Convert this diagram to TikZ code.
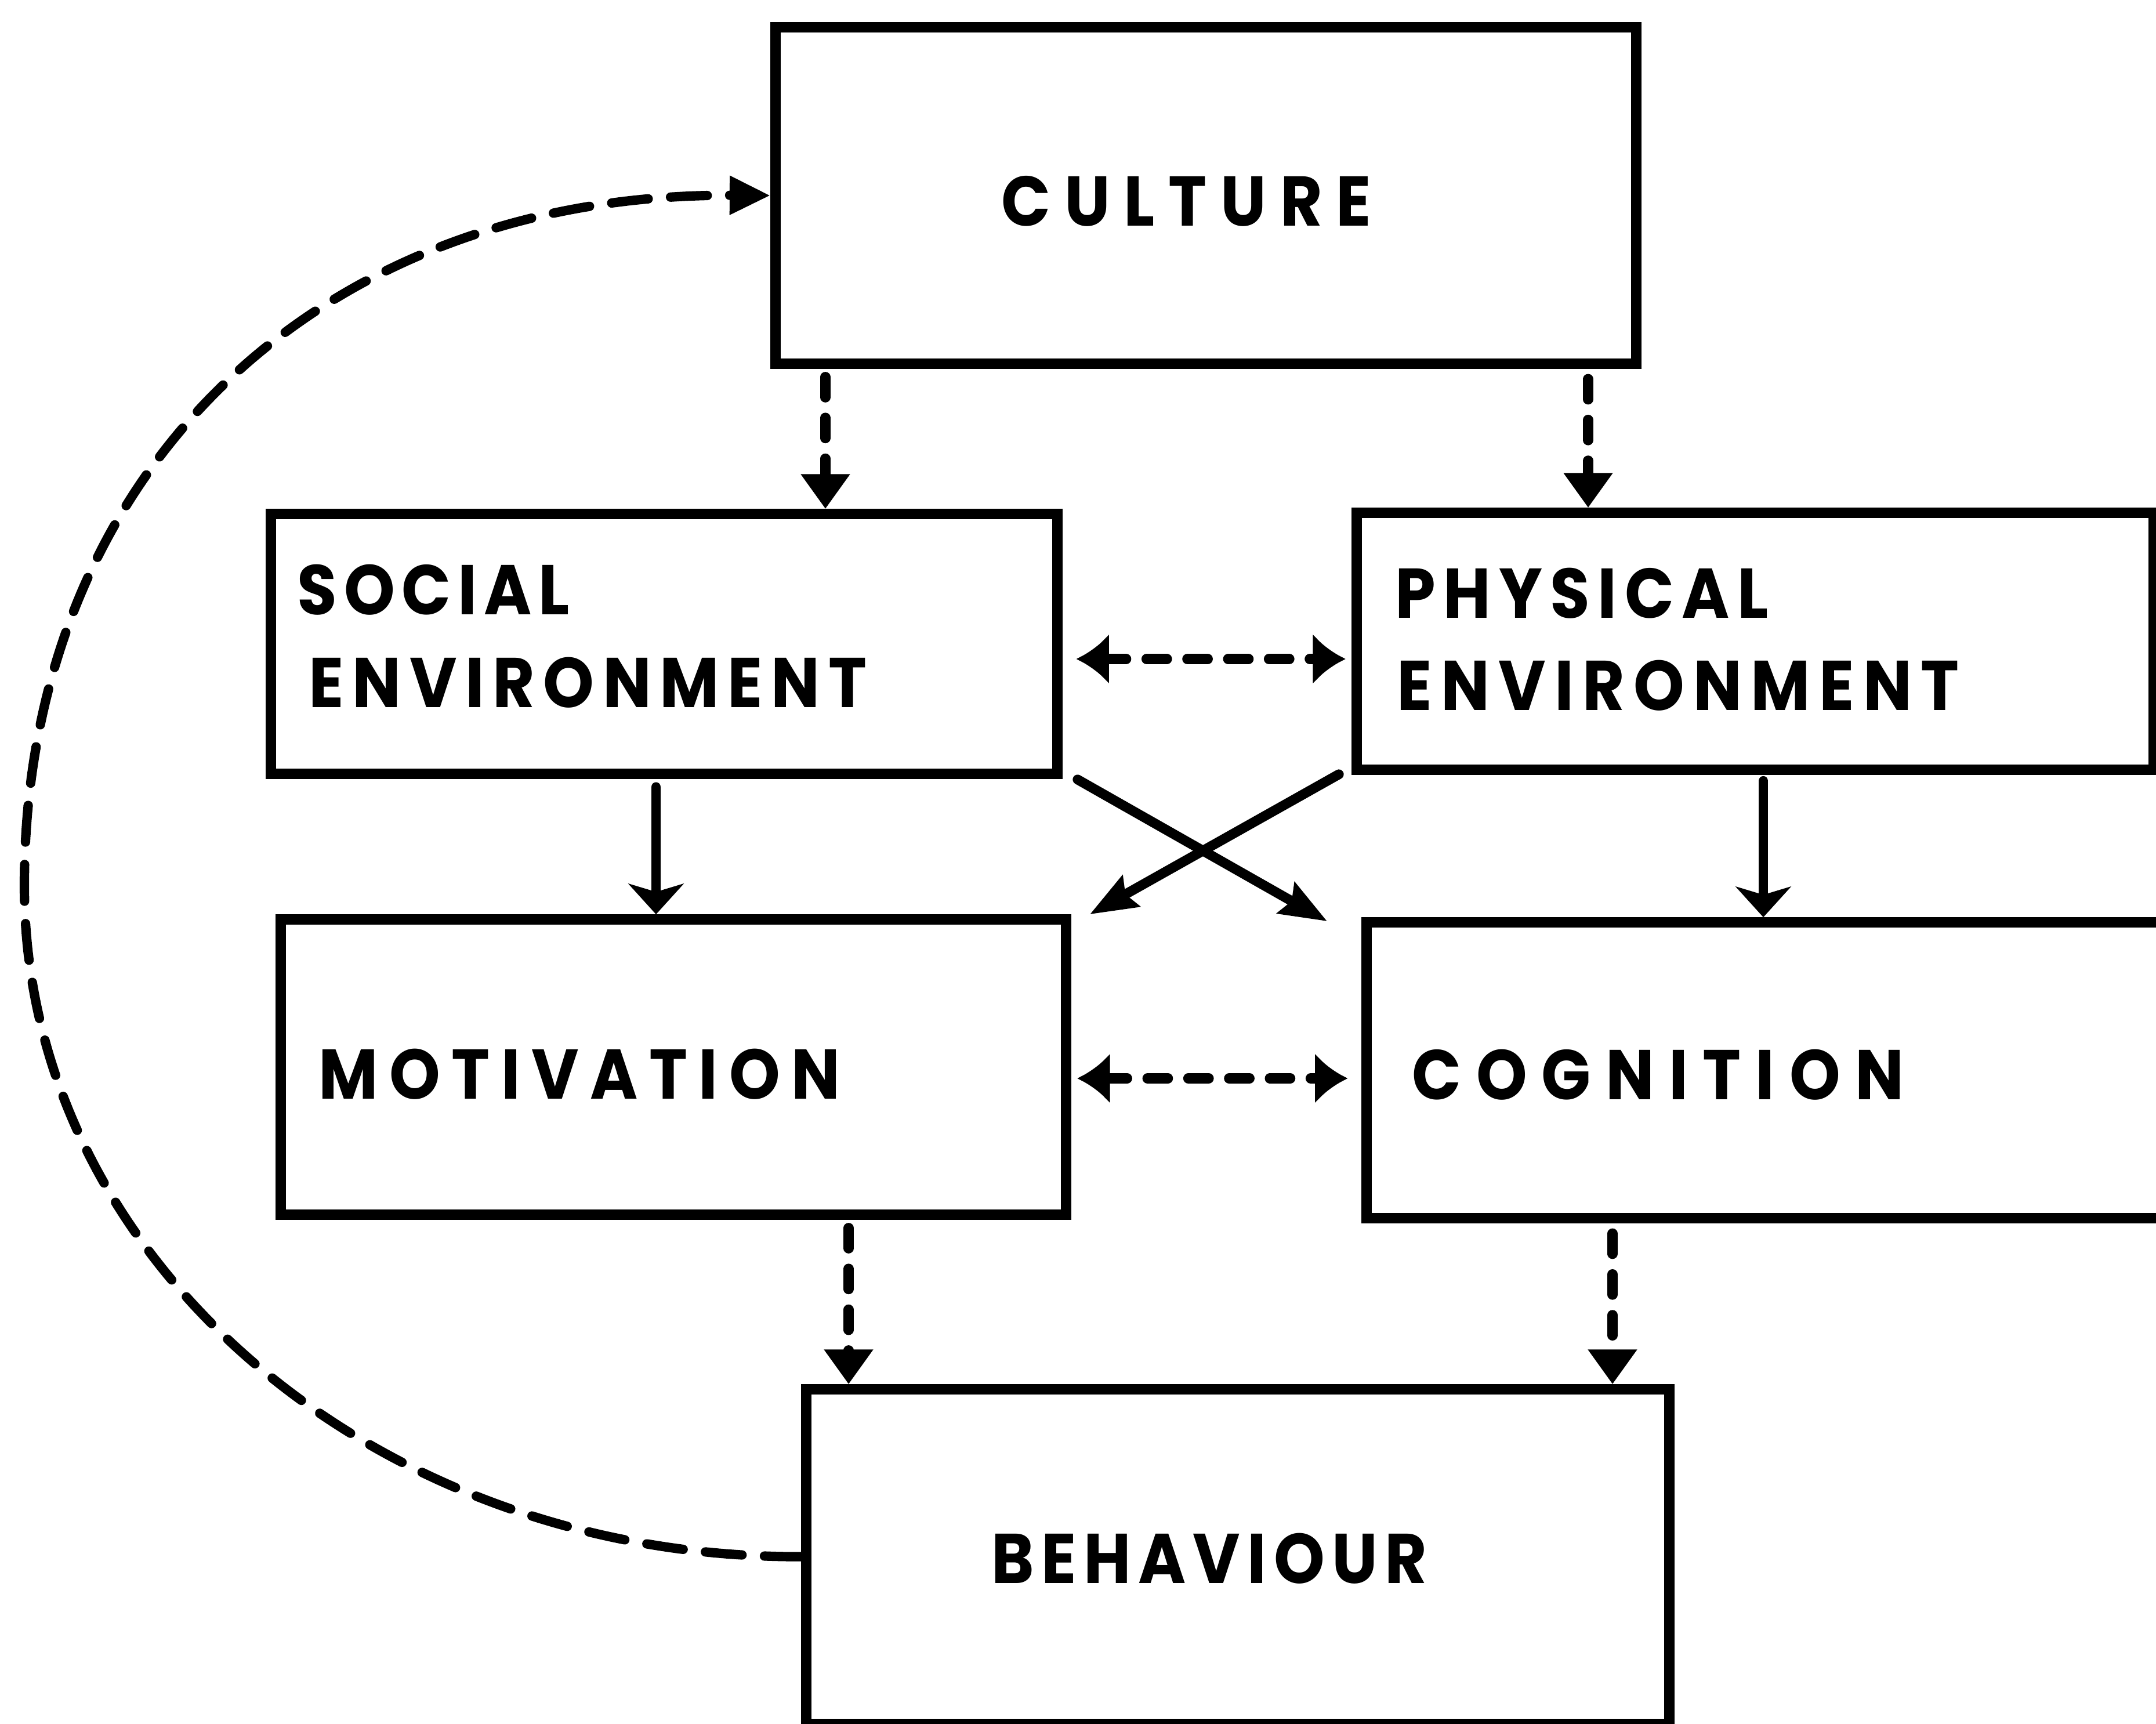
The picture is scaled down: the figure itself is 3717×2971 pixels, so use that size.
\documentclass[tikz,border=0pt]{standalone}
\usepackage{fontspec}
\newfontfamily\labelfont{Poppins}[FakeStretch=0.92]
\usetikzlibrary{arrows.meta,fit,calc}

% set a word letter by letter, spread evenly over a given width
\makeatletter
\def\spr@ad#1{\ifx#1\@nil\else#1\hfil\expandafter\spr@ad\fi}
\newcommand\spreadword[2]{\hbox to #1{\spr@ad#2\@nil\unskip}}
\makeatother

\begin{document}
\begin{tikzpicture}[x=0.01cm,y=-0.01cm,
  box/.style={draw,line width=5pt,rectangle,inner sep=0pt},
  lbl/.style={anchor=base west,inner sep=0pt,
    font={\labelfont\bfseries\fontsize{34.5pt}{40pt}\selectfont}},
  dashconn/.style={line width=5pt,dash pattern=on 10pt off 10pt,line cap=round},
  solidconn/.style={line width=4.8pt,line cap=round},
  downtip/.style={-{Triangle[length=17pt,width=23pt]}},
  sidetips/.style={{Latex[length=16pt,width=25pt]}-{Latex[length=16pt,width=25pt]}},
  solidtip/.style={-{Stealth[length=15pt,width=27pt,inset=4pt]}},
  slanttip/.style={-{Stealth[length=23pt,width=17pt,inset=3pt]}},
  looptip/.style={-{Triangle[length=20pt,width=18pt]}},
  loopdash/.style={line width=4.6pt,dash pattern=on 18pt off 11pt,line cap=round}]

\fill[white] (0,0) rectangle (3717,2971);
\clip (0,0) rectangle (3717,2971);

% boxes
\node[box,fit={(1337,47) (2821,627)}] (culture) {};
\node[box,fit={(467,886) (1823,1334)}] (social) {};
\node[box,fit={(2339,884) (3713,1327)}] (physical) {};
\node[box,fit={(484,1585) (1838,2094)}] (motivation) {};
\node[box,fit={(2356,1590) (3820,2100)}] (cognition) {};
\node[box,fit={(1390,2395) (2878,2972)}] (behaviour) {};

% labels
\node[lbl] (tculture) at (1726,389) {\spreadword{6.37cm}{CULTURE}};
\node[lbl] (tsocial) at (512,1059) {\spreadword{4.69cm}{SOCIAL}};
\node[lbl] (tsocialenv) at (532,1219) {\spreadword{9.61cm}{ENVIRONMENT}};
\node[lbl] (tphysical) at (2405,1065) {\spreadword{6.43cm}{PHYSICAL}};
\node[lbl] (tphysicalenv) at (2408,1224) {\spreadword{9.68cm}{ENVIRONMENT}};
\node[lbl] (tmotivation) at (549,1894) {\spreadword{8.98cm}{MOTIVATION}};
\node[lbl] (tcognition) at (2434,1895) {\spreadword{8.47cm}{COGNITION}};
\node[lbl] (tbehaviour) at (1709,2729) {\spreadword{7.50cm}{BEHAVIOUR}};

% guide lines for the connectors
\coordinate (xa) at (1423,0);
\coordinate (xb) at (2738,0);
\coordinate (xc) at (1131,0);
\coordinate (xd) at (3040,0);
\coordinate (xe) at (1463,0);
\coordinate (xf) at (2780,0);
\coordinate (ya) at (0,1136);
\coordinate (yb) at (0,1859);

% culture down to the two environments
\draw[dashconn,downtip,shorten <=4pt] (culture.south -| xa) -- (social.north -| xa);
\draw[dashconn,downtip,shorten <=5pt] (culture.south -| xb) -- (physical.north -| xb);

% environments to each other
\draw[dashconn,sidetips,shorten <=6.8pt,shorten >=3pt] (social.east |- ya) -- (physical.west |- ya);

% environments down to motivation and cognition
\draw[solidconn,solidtip,shorten <=4pt] (social.south -| xc) -- (motivation.north -| xc);
\draw[solidconn,solidtip,shorten <=3pt] (physical.south -| xd) -- (cognition.north -| xd);
\draw[solidconn,slanttip] ([shift={(26,1)}]social.south east) -- ([shift={(-59,7)}]cognition.north west);
\draw[solidconn,slanttip] ([shift={(-22,-1)}]physical.south west) -- ([shift={(32,0)}]motivation.north east);

% motivation and cognition to each other
\draw[dashconn,sidetips,shorten <=3pt,shorten >=6.8pt] (motivation.east |- yb) -- (cognition.west |- yb);

% down to behaviour
\draw[dashconn,downtip,shorten <=4pt] (motivation.south -| xe) -- (behaviour.north -| xe);
\draw[dashconn,downtip,shorten <=5pt] (cognition.south -| xf) -- (behaviour.north -| xf);

% feedback loop from behaviour back to culture
\draw[loopdash,looptip] (behaviour.west)
  .. controls (642,2686) and (42,2168) .. (42,1527)
  .. controls (42,811) and (554,333) .. (culture.west);
\end{tikzpicture}
\end{document}
